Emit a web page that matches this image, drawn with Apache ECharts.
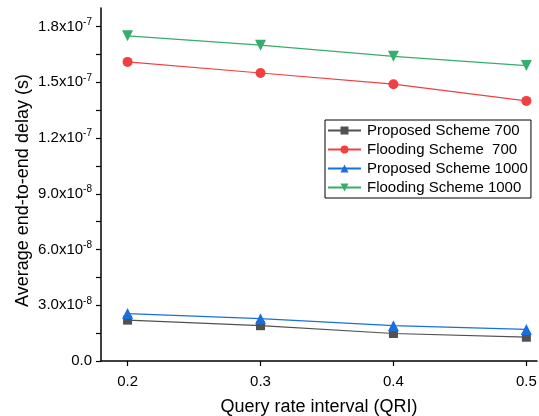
<!DOCTYPE html>
<html>
<head>
<meta charset="utf-8">
<script src="https://cdn.jsdelivr.net/npm/echarts@6/dist/echarts.min.js"></script>
<style>
html, body { margin: 0; padding: 0; background: #fff; }
#chart { width: 539px; height: 416px; }
</style>
</head>
<body>
<div id="chart"></div>
<script>
var qri = [0.2, 0.3, 0.4, 0.5];
var proposed700 = [2.2e-8, 1.9e-8, 1.48e-8, 1.28e-8];
var flooding700 = [1.61e-7, 1.55e-7, 1.49e-7, 1.40e-7];
var proposed1000 = [2.55e-8, 2.28e-8, 1.9e-8, 1.7e-8];
var flooding1000 = [1.75e-7, 1.70e-7, 1.64e-7, 1.59e-7];
var yTicks = [0, 3e-8, 6e-8, 9e-8, 1.2e-7, 1.5e-7, 1.8e-7];
var yMinorTicks = [0, 1.5e-8, 3e-8, 4.5e-8, 6e-8, 7.5e-8, 9e-8, 1.05e-7, 1.2e-7, 1.35e-7, 1.5e-7, 1.65e-7, 1.8e-7];

function sciLabel(v) {
  if (Math.abs(v) < 1e-20) return '0.0';
  var e = Math.floor(Math.log10(v) + 1e-9);
  var m = Math.round(v / Math.pow(10, e) * 10) / 10;
  return m.toFixed(1) + 'x10{sup|' + e + '}';
}

function pairs(vals) {
  return qri.map(function (x, i) { return [x, vals[i]]; });
}

var myChart = echarts.init(document.getElementById('chart'));
myChart.setOption({
  animation: false,
  textStyle: { fontFamily: 'Liberation Sans, Arial, sans-serif' },
  grid: { left: 101, right: 2, top: 8, bottom: 55, outerBoundsMode: 'none', containLabel: false },
  legend: {
    left: 325,
    top: 120,
    orient: 'vertical',
    itemWidth: 33,
    itemHeight: 10,
    itemGap: 4,
    padding: [3, 3, 3, 2],
    borderColor: '#000',
    borderWidth: 1,
    textStyle: { fontSize: 15, color: '#000', padding: [0, 0, 0, 1] },
    data: ['Proposed Scheme 700', 'Flooding Scheme  700', 'Proposed Scheme 1000', 'Flooding Scheme 1000']
  },
  xAxis: {
    type: 'value',
    min: 0.18,
    max: 0.508,
    name: 'Query rate interval (QRI)',
    nameLocation: 'middle',
    nameGap: 37,
    nameMoveOverlap: false,
    nameTextStyle: { fontSize: 18, color: '#000' },
    axisLine: { lineStyle: { color: '#000', width: 1.5 } },
    axisTick: { inside: false, length: 5, lineStyle: { color: '#000', width: 1.2 }, customValues: qri },
    axisLabel: { fontSize: 15, color: '#000', margin: 13, customValues: qri, formatter: function (v) { return v.toFixed(1); } },
    splitLine: { show: false }
  },
  yAxis: {
    type: 'value',
    min: 0,
    max: 1.9e-7,
    name: 'Average end-to-end delay (s)',
    nameLocation: 'middle',
    nameGap: 69,
    nameMoveOverlap: false,
    nameTextStyle: { fontSize: 18, color: '#000', padding: [0, 12, 0, 0] },
    axisLine: { show: true, lineStyle: { color: '#000', width: 1.5 } },
    axisTick: { show: true, inside: false, length: 5, lineStyle: { color: '#000', width: 1.2 }, customValues: yMinorTicks },
    axisLabel: {
      fontSize: 15,
      color: '#000',
      margin: 9,
      customValues: yTicks,
      formatter: sciLabel,
      rich: { sup: { fontSize: 10, color: '#000', padding: [0, 0, 9, 0] } }
    },
    splitLine: { show: false }
  },
  series: [
    {
      name: 'Proposed Scheme 700',
      type: 'line',
      data: pairs(proposed700),
      symbol: 'rect',
      symbolSize: 9,
      itemStyle: { color: '#515151' },
      lineStyle: { color: '#515151', width: 1.2 }
    },
    {
      name: 'Flooding Scheme  700',
      type: 'line',
      data: pairs(flooding700),
      symbol: 'circle',
      symbolSize: 10,
      itemStyle: { color: '#F14040' },
      lineStyle: { color: '#F14040', width: 1.2 }
    },
    {
      name: 'Proposed Scheme 1000',
      type: 'line',
      data: pairs(proposed1000),
      symbol: 'triangle',
      symbolSize: 11,
      itemStyle: { color: '#1A6FDF' },
      lineStyle: { color: '#1A6FDF', width: 1.2 }
    },
    {
      name: 'Flooding Scheme 1000',
      type: 'line',
      data: pairs(flooding1000),
      symbol: 'triangle',
      symbolRotate: 180,
      symbolSize: 11,
      itemStyle: { color: '#37AD6B' },
      lineStyle: { color: '#37AD6B', width: 1.2 }
    }
  ]
});
</script>
</body>
</html>
